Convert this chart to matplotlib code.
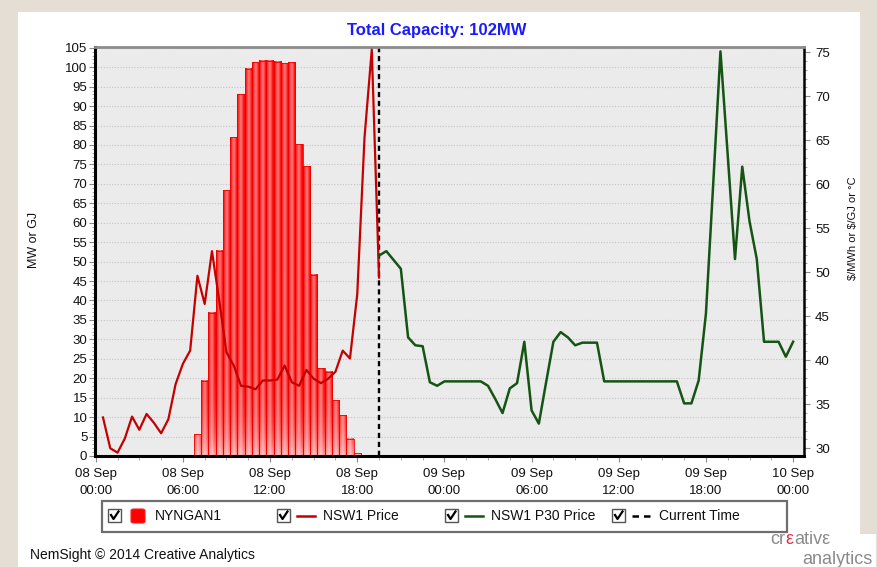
import numpy as np
import matplotlib
matplotlib.use('Agg')
import matplotlib.pyplot as plt
from matplotlib.patches import Rectangle, FancyBboxPatch
from matplotlib.lines import Line2D
from matplotlib.ticker import MultipleLocator

# ---------------- data ----------------
bar_hours = [7.0, 7.5, 8.0, 8.5, 9.0, 9.5, 10.0, 10.5, 11.0, 11.5, 12.0, 12.5,
             13.0, 13.5, 14.0, 14.5, 15.0, 15.5, 16.0, 16.5, 17.0, 17.5, 18.0]
nyngan_mw = [5.6, 19.3, 36.9, 52.8, 68.4, 82.0, 93.1, 99.6, 101.3, 101.6, 101.6, 101.4,
             101.0, 101.3, 80.2, 74.5, 46.6, 22.6, 21.7, 14.4, 10.5, 4.5, 0.7]

price_hours = [0.5, 1.0, 1.5, 2.0, 2.5, 3.0, 3.5, 4.0, 4.5, 5.0,
               5.5, 6.0, 6.5, 7.0, 7.5, 8.0, 8.5, 9.0, 9.5, 10.0,
               10.5, 11.0, 11.5, 12.0, 12.5, 13.0, 13.5, 14.0, 14.5, 15.0,
               15.5, 16.0, 16.5, 17.0, 17.5, 18.0, 18.5, 19.0, 19.5]
nsw1_price = [33.5, 30.0, 29.5, 31.1, 33.6, 32.1, 33.9, 32.9, 31.7, 33.3,
              37.3, 39.6, 41.1, 49.6, 46.4, 52.4, 46.8, 40.9, 39.4, 37.1,
              37.0, 36.7, 37.7, 37.7, 37.8, 39.4, 37.5, 37.1, 38.9, 37.9,
              37.4, 37.9, 38.7, 41.1, 40.2, 47.5, 65.3, 75.3, 49.4]

p30_hours = [19.5, 20.0, 20.5, 21.0, 21.5, 22.0, 22.5, 23.0, 23.5, 24.0,
             24.5, 25.0, 25.5, 26.0, 26.5, 27.0, 27.5, 28.0, 28.5, 29.0,
             29.5, 30.0, 30.5, 31.0, 31.5, 32.0, 32.5, 33.0, 33.5, 34.0,
             34.5, 35.0, 35.5, 36.0, 36.5, 37.0, 37.5, 38.0, 38.5, 39.0,
             39.5, 40.0, 40.5, 41.0, 41.5, 42.0, 42.5, 43.0, 43.5, 44.0,
             44.5, 45.0, 45.5, 46.0, 46.5, 47.0, 47.5, 48.0]
p30_price = [51.9, 52.4, 51.4, 50.4, 42.6, 41.7, 41.6, 37.5, 37.1, 37.6,
             37.6, 37.6, 37.6, 37.6, 37.6, 37.1, 35.6, 34.0, 36.8, 37.4,
             42.1, 34.3, 32.8, 37.5, 42.1, 43.2, 42.6, 41.7, 42.0, 42.0,
             42.0, 37.6, 37.6, 37.6, 37.6, 37.6, 37.6, 37.6, 37.6, 37.6,
             37.6, 37.6, 35.1, 35.1, 37.7, 45.3, 60.0, 75.1, 63.3, 51.5,
             62.0, 55.8, 51.5, 42.1, 42.1, 42.1, 40.4, 42.1]

current_time = 19.5

xtick_hours = [0, 6, 12, 18, 24, 30, 36, 42, 48]
xtick_labels = ['08 Sep\n00:00', '08 Sep\n06:00', '08 Sep\n12:00', '08 Sep\n18:00',
                '09 Sep\n00:00', '09 Sep\n06:00', '09 Sep\n12:00', '09 Sep\n18:00',
                '10 Sep\n00:00']

title = 'Total Capacity: 102MW'
legend_names = ['NYNGAN1', 'NSW1 Price', 'NSW1 P30 Price', 'Current Time']

# ---------------- figure ----------------
W, H = 878, 567
fig = plt.figure(figsize=(W / 100, H / 100), dpi=100, facecolor='#e4ded5')


def fx(x):
    return x / W


def fy(y):
    return 1 - y / H


fig.add_artist(Rectangle((fx(18), 0), fx(860) - fx(18), fy(12), transform=fig.transFigure,
                         facecolor='white', edgecolor='none', zorder=-10))

ax = fig.add_axes([fx(95), fy(456), fx(804) - fx(95), fy(47) - fy(456)])
ax.set_facecolor('#ebebeb')
ax2 = ax.twinx()
ax2.set_ylim(29.12, 75.6)

ax.set_axisbelow(True)
ax.yaxis.grid(True, which='major', color='#c4c4c4', linestyle=(0, (1, 1.5)), linewidth=0.8)

# gradient bars
bw = 0.5
ny, nx = 80, 24
u = (np.arange(nx) + 0.5) / nx
wh = 0.45 * np.sin(np.pi * np.clip(u * 1.05, 0, 1)) ** 2
for t, v in zip(bar_hours, nyngan_mw):
    yy = (np.arange(ny) + 0.5) / ny * v
    wv = 0.6 * np.exp(-yy / 7.0)
    w = 1 - (1 - wv[:, None]) * (1 - wh[None, :])
    img = np.zeros((ny, nx, 3))
    img[..., 0] = 1.0
    img[..., 1] = w
    img[..., 2] = w
    ax.imshow(img, extent=(t - bw / 2, t + bw / 2, 0, v), origin='lower', aspect='auto',
              interpolation='bilinear', zorder=1)
    ax.add_patch(Rectangle((t - bw / 2, 0), bw, v, facecolor='none', edgecolor='#f00000',
                           linewidth=0.6, zorder=2))
ax.set_xlim(-0.05, 48.75)
ax.set_ylim(0, 105.2)

ax.axvline(current_time, color='black', linestyle=(0, (2.2, 1.6)), linewidth=1.7, zorder=3)

ax2.plot(price_hours, nsw1_price, color='#c40000', linewidth=1.6, zorder=3)
ax2.plot(p30_hours, p30_price, color='#145514', linewidth=1.8, zorder=3)

# ticks
ax.yaxis.set_major_locator(MultipleLocator(5))
ax.yaxis.set_minor_locator(MultipleLocator(1))
ax2.yaxis.set_major_locator(MultipleLocator(5))
ax2.yaxis.set_minor_locator(MultipleLocator(1))
ax.set_xticks(xtick_hours)
ax.set_xticklabels(xtick_labels, fontsize=9.5, family='Liberation Sans', color='#111111',
                   linespacing=1.5)
ax.xaxis.set_minor_locator(MultipleLocator(1.5))

ax.tick_params(axis='y', which='major', direction='out', length=4, width=0.8, color='#8a8a8a',
               labelsize=9.5, pad=1.5, labelcolor='#111111')
ax.tick_params(axis='y', which='minor', direction='out', length=2, width=0.6, color='#9a9a9a')
ax2.tick_params(axis='y', which='major', direction='out', length=4, width=0.8, color='#8a8a8a',
                labelsize=9.5, pad=4, labelcolor='#111111')
ax2.tick_params(axis='y', which='minor', direction='out', length=2, width=0.6, color='#9a9a9a')
ax.tick_params(axis='x', which='major', direction='out', length=4, width=0.8, color='#8a8a8a',
               pad=5)
ax.tick_params(axis='x', which='minor', direction='out', length=3, width=0.6, color='#9a9a9a')
for lab in ax.get_yticklabels() + ax2.get_yticklabels():
    lab.set_family('Liberation Sans')

for s in ax.spines.values():
    s.set_visible(False)
ax2.spines['left'].set_color('black')
ax2.spines['left'].set_linewidth(2.2)
ax2.spines['bottom'].set_color('black')
ax2.spines['bottom'].set_linewidth(2.2)
ax2.spines['right'].set_color('black')
ax2.spines['right'].set_linewidth(1.8)
ax2.spines['top'].set_color('#8c8c8c')
ax2.spines['top'].set_linewidth(2)

# labels & title
fig.text(fx(437), fy(30), title, ha='center', va='center', color='#1a1aff', fontsize=12,
         fontweight='bold', family='Liberation Sans')
fig.text(fx(34), fy(240), 'MW or GJ', rotation=90, ha='center', va='center', fontsize=9,
         family='Liberation Sans', color='#111111')
fig.text(fx(853), fy(228), '\\$/MWh or \\$/GJ or °C', rotation=90, ha='center', va='center',
         fontsize=8, family='Liberation Sans', color='#111111')

# manual legend
fig.add_artist(Rectangle((fx(102), fy(532)), fx(787) - fx(102), fy(501) - fy(532),
                         transform=fig.transFigure, facecolor='white', edgecolor='#6e6e6e',
                         linewidth=1.6, zorder=5))
checks = [108, 277, 445, 612]
for cx in checks:
    fig.add_artist(Rectangle((fx(cx), fy(522)), fx(cx + 13) - fx(cx), fy(509) - fy(522),
                             transform=fig.transFigure, facecolor='white', edgecolor='#555555',
                             linewidth=1.0, zorder=6))
    fig.add_artist(Line2D([fx(cx + 3), fx(cx + 5.5), fx(cx + 10.5)],
                          [fy(515), fy(519), fy(511.5)], transform=fig.transFigure,
                          color='black', linewidth=1.6, zorder=7))
fig.add_artist(FancyBboxPatch((fx(131), fy(523)), fx(145) - fx(131), fy(509) - fy(523),
                              boxstyle='round,pad=0,rounding_size=0.003',
                              transform=fig.transFigure, facecolor='#ff0000',
                              edgecolor='#ff2020', linewidth=0.8, zorder=6))
fig.add_artist(Line2D([fx(297), fx(315)], [fy(516), fy(516)], transform=fig.transFigure,
                      color='#c40000', linewidth=1.8, zorder=6))
fig.add_artist(Line2D([fx(465), fx(483)], [fy(516), fy(516)], transform=fig.transFigure,
                      color='#145514', linewidth=1.8, zorder=6))
fig.add_artist(Line2D([fx(632), fx(651)], [fy(516), fy(516)], transform=fig.transFigure,
                      color='black', linewidth=1.8, linestyle=(0, (2.6, 2.0)), zorder=6))
for xx, name in zip([155, 323, 491, 659], legend_names):
    fig.text(fx(xx), fy(516), name, ha='left', va='center', fontsize=10,
             family='Liberation Sans', color='#111111', zorder=7)

fig.text(fx(30), fy(555), 'NemSight © 2014 Creative Analytics', ha='left', va='center',
         fontsize=10, family='Liberation Sans', color='#111111')

# logo
fig.add_artist(Rectangle((fx(760), 0), fx(876) - fx(760), fy(534), transform=fig.transFigure,
                         facecolor='white', edgecolor='none', zorder=-9))
fig.text(fx(770), fy(543.5), 'cr', ha='left', va='baseline', fontsize=13, color='#8a8a8a',
         family='Liberation Sans')
fig.text(fx(785.5), fy(543.5), 'ε', ha='left', va='baseline', fontsize=13, color='#e03050',
         family='Liberation Sans')
fig.text(fx(794), fy(543.5), 'ativε', ha='left', va='baseline', fontsize=13, color='#8a8a8a',
         family='Liberation Sans')
fig.text(fx(873), fy(564), 'analytics', ha='right', va='baseline', fontsize=13,
         color='#8a8a8a', family='Liberation Sans')

fig.savefig('out.png', dpi=100, facecolor=fig.get_facecolor())
